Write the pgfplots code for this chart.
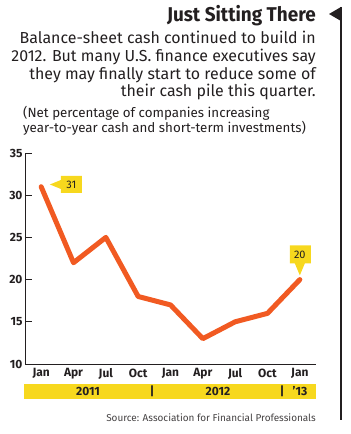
\documentclass[border=0pt]{standalone}
\usepackage{pgfplots}
\pgfplotsset{compat=1.18}
\usepackage{fontspec}
\setmainfont{Fira Sans}
\definecolor{lineor}{HTML}{F15A22}
\definecolor{tagyel}{HTML}{F7D81E}
\definecolor{txt}{HTML}{231F20}
\begin{document}
\begin{tikzpicture}
\begin{scope}[x=1bp,y=1bp]
\path[use as bounding box] (0,0) rectangle (350,434);
% right rule with arrow
\fill[txt] (339.8,14) rectangle (342.2,427);
\fill[txt] (329,420) -- (341,427) -- (341,413) -- cycle;
% title & texts
\node[anchor=base east,text=txt,inner sep=0] at (316,412.3) {\fontsize{20}{22}\selectfont\bfseries\scalebox{0.95}[1]{Just Sitting There}};
\node[anchor=base east,text=txt,inner sep=0] at (316,390) {\fontsize{16}{18}\selectfont Balance-sheet cash continued to build in};
\node[anchor=base east,text=txt,inner sep=0] at (316,372.3) {\fontsize{16}{18}\selectfont 2012. But many U.S. finance executives say};
\node[anchor=base east,text=txt,inner sep=0] at (316,354.6) {\fontsize{16}{18}\selectfont they may finally start to reduce some of};
\node[anchor=base east,text=txt,inner sep=0] at (316,337) {\fontsize{16}{18}\selectfont their cash pile this quarter.};
\node[anchor=base west,text=txt,inner sep=0] at (23,316) {\fontsize{13.4}{14}\selectfont (Net percentage of companies increasing};
\node[anchor=base west,text=txt,inner sep=0] at (23,301) {\fontsize{13.4}{14}\selectfont year-to-year cash and short-term investments)};
% year band
\fill[tagyel] (24,35) rectangle (316,50);
\node[text=txt,inner sep=0] at (88,42.5) {\fontsize{12}{12}\selectfont\bfseries 2011};
\node[text=txt,inner sep=0] at (152,42.5) {\fontsize{12}{12}\selectfont\bfseries |};
\node[text=txt,inner sep=0] at (218,42.5) {\fontsize{12}{12}\selectfont\bfseries 2012};
\node[text=txt,inner sep=0] at (282,42.5) {\fontsize{12}{12}\selectfont\bfseries |};
\node[text=txt,inner sep=0] at (300,42.5) {\fontsize{12}{12}\selectfont\bfseries '13};
\node[anchor=east,text=txt!85,inner sep=0] at (316,16) {\fontsize{10}{11}\selectfont Source: Association for Financial Professionals};
\end{scope}
\begin{axis}[
  at={(25bp,70bp)}, anchor=south west,
  scale only axis, width=291bp, height=211bp,
  xmin=-0.5, xmax=8.5, ymin=10, ymax=35,
  axis lines=left, axis line style={txt, line width=0.9bp, -},
  clip=false,
  xtick={0,...,8},
  xticklabels={Jan,Apr,Jul,Oct,Jan,Apr,Jul,Oct,Jan},
  x tick label style={font=\fontsize{12}{12}\selectfont\bfseries, text=txt, yshift=-1bp},
  major x tick style={draw=none},
  extra x ticks={0.5,1.5,2.5,3.5,4.5,5.5,6.5,7.5,8.5},
  extra x tick labels={},
  extra x tick style={tick style={draw=txt, line width=0.9bp}, major tick length=4bp, tick align=inside},
  ytick={10,15,20,25,30,35},
  y tick label style={font=\fontsize{12}{12}\selectfont\bfseries, text=txt, xshift=1bp},
  y tick style={draw=txt, line width=0.9bp},
  major tick length=7bp, tick align=inside,
  /pgf/number format/assume math mode=true,
]
\addplot[lineor, line width=5bp, line cap=round, line join=round] coordinates {
 (0,31) (1,22) (2,25) (3,18) (4,17) (5,13) (6,15) (7,16) (8,20)};
% tag 31
\fill[tagyel] (axis cs:0.27,31.27) -- ++(11bp,4.5bp) -- ++(0bp,4bp) -- ++(21bp,0bp) -- ++(0bp,-17bp) -- ++(-21bp,0bp) -- ++(0bp,4bp) -- cycle;
\node[text=txt,inner sep=0] at ([xshift=21.5bp]axis cs:0.27,31.27) {\fontsize{11}{11}\selectfont 31};
% tag 20
\fill[tagyel] (axis cs:8,20.5) -- ++(5bp,12bp) -- ++(6bp,0bp) -- ++(0bp,18bp) -- ++(-21bp,0bp) -- ++(0bp,-18bp) -- ++(5bp,0bp) -- cycle;
\node[text=txt,inner sep=0] at ([yshift=21bp]axis cs:8,20.5) {\fontsize{11}{11}\selectfont 20};
\end{axis}
\end{tikzpicture}
\end{document}
